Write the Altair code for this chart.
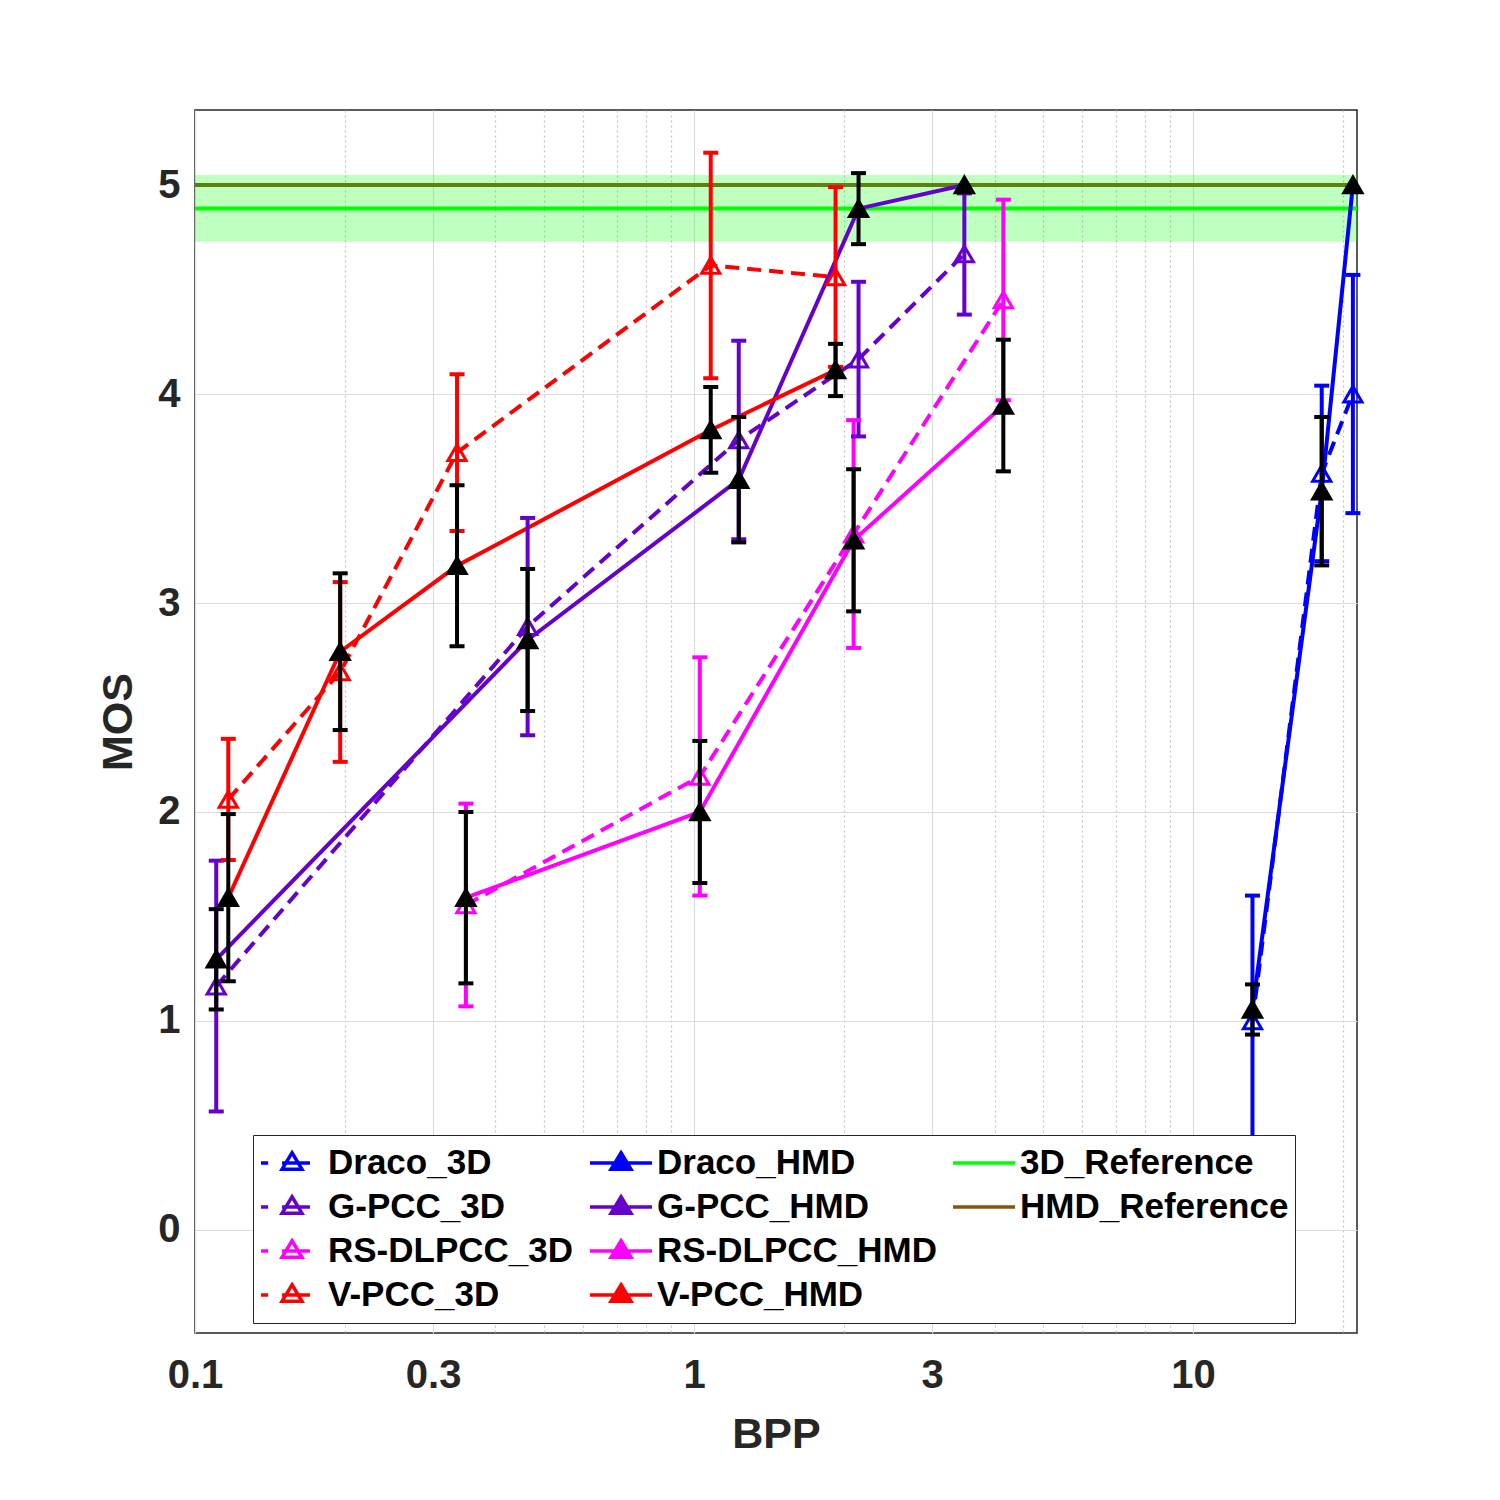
import altair as alt
import pandas as pd

# ---------------- data ----------------
codecs = ["Draco", "G-PCC", "RS-DLPCC", "V-PCC"]
codec_colors = ["#0000FF", "#6600CC", "#FF00FF", "#FF0000"]

draco_bpp = [13.15, 18.1, 20.9]
draco_3d_mos = [1.0, 3.62, 4.0]
draco_3d_ci = [0.6, 0.42, 0.57]
draco_hmd_mos = [1.055, 3.535, 5.0]
draco_hmd_ci = [0.12, 0.355, 0.0]

gpcc_bpp = [0.1103, 0.464, 1.229, 2.136, 3.48]
gpcc_3d_mos = [1.167, 2.887, 3.78, 4.167, 4.67]
gpcc_3d_ci = [0.60, 0.52, 0.475, 0.37, 0.29]
gpcc_hmd_mos = [1.295, 2.823, 3.59, 4.887, 5.0]
gpcc_hmd_ci = [0.24, 0.34, 0.30, 0.17, 0.0]

rs_bpp = [0.349, 1.027, 2.088, 4.166]
rs_3d_mos = [1.555, 2.17, 3.33, 4.45]
rs_3d_ci = [0.485, 0.57, 0.545, 0.48]
rs_hmd_mos = [1.59, 2.0, 3.30, 3.945]
rs_hmd_ci = [0.41, 0.34, 0.34, 0.315]

vpcc_bpp = [0.1166, 0.1954, 0.335, 1.08, 1.921]
vpcc_3d_mos = [2.06, 2.67, 3.72, 4.615, 4.56]
vpcc_3d_ci = [0.29, 0.43, 0.375, 0.54, 0.43]
vpcc_hmd_mos = [1.59, 2.767, 3.178, 3.828, 4.115]
vpcc_hmd_ci = [0.40, 0.375, 0.385, 0.205, 0.125]

ref_3d_mos = [4.888]
ref_3d_ci = [0.16]
ref_hmd_mos = [5.0]

x_major = [0.1, 0.3, 1, 3, 10]
x_minor = [0.2, 0.4, 0.5, 0.6, 0.7, 0.8, 0.9, 2, 4, 5, 6, 7, 8, 9, 20]
y_ticks = [0, 1, 2, 3, 4, 5]

# ---------------- tables ----------------
rows = []
def add(codec, mode, bpp, mos, ci):
    for b, m, c in zip(bpp, mos, ci):
        rows.append({"series": f"{codec}_{mode}", "mode": mode, "bpp": b,
                     "mos": m, "ci": c, "lo": m - c, "hi": m + c})

add("Draco", "3D", draco_bpp, draco_3d_mos, draco_3d_ci)
add("G-PCC", "3D", gpcc_bpp, gpcc_3d_mos, gpcc_3d_ci)
add("RS-DLPCC", "3D", rs_bpp, rs_3d_mos, rs_3d_ci)
add("V-PCC", "3D", vpcc_bpp, vpcc_3d_mos, vpcc_3d_ci)
add("Draco", "HMD", draco_bpp, draco_hmd_mos, draco_hmd_ci)
add("G-PCC", "HMD", gpcc_bpp, gpcc_hmd_mos, gpcc_hmd_ci)
add("RS-DLPCC", "HMD", rs_bpp, rs_hmd_mos, rs_hmd_ci)
add("V-PCC", "HMD", vpcc_bpp, vpcc_hmd_mos, vpcc_hmd_ci)
df = pd.DataFrame(rows)

ref3d_df = pd.DataFrame({"mos": ref_3d_mos, "lo": [ref_3d_mos[0] - ref_3d_ci[0]],
                         "hi": [ref_3d_mos[0] + ref_3d_ci[0]]})
refhmd_df = pd.DataFrame({"mos": ref_hmd_mos})

series_all = [f"{c}_{m}" for m in ["3D", "HMD"] for c in codecs]
color_scale = alt.Scale(domain=series_all, range=codec_colors + codec_colors)

GREEN = "#00FF00"
BROWN = "#825511"
AXC = "#262626"
FONT = "Liberation Sans"

major_test = " || ".join(f"datum.value == {v}" for v in x_major)

xscale = alt.Scale(type="log", domain=[0.1, 21.3], nice=False)
yscale = alt.Scale(domain=[-0.493, 5.359], nice=False, zero=False)

xaxis = alt.Axis(values=x_major + x_minor, format="~g",
                 labelExpr=f"({major_test}) ? datum.label : ''",
                 grid=True,
                 gridDash={"condition": {"test": major_test, "value": [1, 0]}, "value": [2, 3]},
                 gridColor={"condition": {"test": major_test, "value": "#dcdcdc"}, "value": "#c4c4c4"},
                 gridWidth=1.2,
                 ticks=False, tickSize=0, domain=False, labelFlush=False,
                 labelFont=FONT, labelFontSize=40, labelFontWeight="bold", labelColor=AXC,
                 labelPadding=22,
                 titleFont=FONT, titleFontSize=43, titleFontWeight="bold", titleColor=AXC,
                 titlePadding=18)
yaxis = alt.Axis(values=y_ticks, grid=True, gridColor="#dcdcdc", gridWidth=1.2,
                 ticks=False, tickSize=0, domain=False,
                 labelFont=FONT, labelFontSize=40, labelFontWeight="bold", labelColor=AXC,
                 labelPadding=15,
                 titleFont=FONT, titleFontSize=43, titleFontWeight="bold", titleColor=AXC,
                 titlePadding=17)

def X():
    return alt.X("bpp:Q", scale=xscale, axis=xaxis, title="BPP")

def Y(field="mos"):
    return alt.Y(f"{field}:Q", scale=yscale, axis=yaxis, title="MOS")

COL = alt.Color("series:N", scale=color_scale, legend=None)

base = alt.Chart(df)
d3 = base.transform_filter("datum.mode == '3D'")
dh = base.transform_filter("datum.mode == 'HMD'")

LW = 4
hmd_ref = alt.Chart(refhmd_df).mark_rule(color=BROWN, strokeWidth=4).encode(y=Y())
band = alt.Chart(ref3d_df).mark_rect(color=GREEN, opacity=0.25).encode(y=Y("lo"), y2="hi:Q")
ref3d = alt.Chart(ref3d_df).mark_rule(color=GREEN, strokeWidth=4).encode(y=Y())

lines3d = d3.mark_line(strokeWidth=LW, strokeDash=[14, 8]).encode(
    x=X(), y=Y(), color=COL, detail="series:N", order="bpp:Q")
linesh = dh.mark_line(strokeWidth=LW).encode(x=X(), y=Y(), color=COL, detail="series:N", order="bpp:Q")

err3d = d3.mark_rule(strokeWidth=LW).encode(x=X(), y=Y("lo"), y2="hi:Q", color=COL)
caps3d = d3.transform_fold(["lo", "hi"], as_=["end", "val"]).mark_tick(
    orient="horizontal", size=15, thickness=4, opacity=1).encode(x=X(), y=Y("val"), color=COL)
pts3d = d3.mark_point(shape="triangle-up", filled=False, size=330, strokeWidth=3, opacity=1).encode(
    x=X(), y=Y(), color=COL)

dh_err = dh.transform_filter("datum.ci > 0")
errh = dh_err.mark_rule(strokeWidth=LW, color="black").encode(x=X(), y=Y("lo"), y2="hi:Q")
capsh = dh_err.transform_fold(["lo", "hi"], as_=["end", "val"]).mark_tick(
    orient="horizontal", size=15, thickness=4, color="black", opacity=1).encode(x=X(), y=Y("val"))
ptsh = dh.mark_point(shape="triangle-up", filled=True, size=300, color="black", stroke="black",
                     strokeWidth=3.5, opacity=1).encode(x=X(), y=Y())

# ---------------- legend (built by Vega-Lite from explicit scale domains) ----------------
legend_domain = ["Draco_3D", "G-PCC_3D", "RS-DLPCC_3D", "V-PCC_3D",
                 "Draco_HMD", "G-PCC_HMD", "RS-DLPCC_HMD", "V-PCC_HMD",
                 "3D_Reference", "HMD_Reference", "blank"]
tri = "M0,-0.33L0.32,0.2L-0.32,0.2Z"
p3d = "M-1,0H-0.77M-0.32,0H0.58" + tri
phmd = "M-1,0H1" + tri
pref = "M-1,0H1"
pblank = "M0,0"
leg_stroke = codec_colors + codec_colors + [GREEN, BROWN, "transparent"]
leg_fill = ["transparent"] * 4 + codec_colors + ["transparent"] * 3
leg_shape = [p3d] * 4 + [phmd] * 4 + [pref] * 2 + [pblank]

LEG = alt.Legend(title=None, orient="none", legendX=58, legendY=1025, columns=3,
                 direction="vertical", symbolSize=3844, symbolStrokeWidth=3.5,
                 symbolOpacity=1,
                 labelFont=FONT, labelFontSize=35, labelFontWeight="bold", labelColor="black",
                 labelLimit=500, labelOffset=3, columnPadding=14, rowPadding=0,
                 clipHeight=44,
                 labelExpr="datum.label == 'blank' ? '' : datum.label",
                 padding=6, strokeColor="#262626", fillColor="white")

leg_df = pd.DataFrame({"series": legend_domain})
legend_layer = alt.Chart(leg_df).transform_filter("false").mark_point().encode(
    stroke=alt.Stroke("series:N", scale=alt.Scale(domain=legend_domain, range=leg_stroke), legend=LEG),
    fill=alt.Fill("series:N", scale=alt.Scale(domain=legend_domain, range=leg_fill), legend=LEG),
    shape=alt.Shape("series:N", scale=alt.Scale(domain=legend_domain, range=leg_shape), legend=LEG),
)

chart = alt.layer(
    lines3d, hmd_ref, band, ref3d, linesh,
    err3d, caps3d, pts3d, errh, capsh, ptsh, legend_layer
).properties(
    width=1162, height=1223,
    padding={"left": 187, "top": 102, "right": 135, "bottom": 160},
    autosize=alt.AutoSizeParams(type="none"),
    background="white",
).configure_view(stroke=AXC, strokeWidth=1.5)

chart.save("out.html", embed_options={"renderer": "svg", "actions": False})
